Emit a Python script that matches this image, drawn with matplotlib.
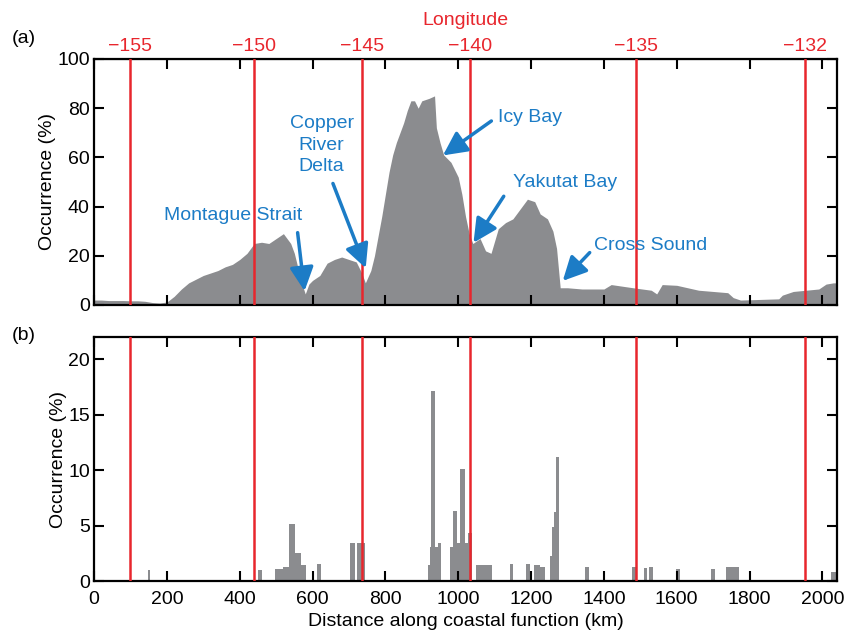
import numpy as np
import matplotlib.pyplot as plt

plt.rcParams['font.family'] = ['Liberation Sans', 'DejaVu Sans']

# (a) occurrence profile along the coast (km / %)
top_km = [0, 20, 40, 60, 80, 100, 120, 140, 160, 180, 200, 220, 240, 260, 280,
          300, 320, 340, 360, 380, 400, 420, 440, 460, 480, 500, 520, 540, 550,
          560, 570, 580, 590, 600, 620, 640, 660, 680, 700, 720, 735, 745, 760,
          770, 780, 790, 800, 810, 820, 830, 840, 850, 860, 870, 880, 890, 900,
          920, 935, 940, 950, 960, 980, 1000, 1010, 1020, 1030, 1040, 1060, 1075,
          1090, 1100, 1110, 1130, 1150, 1170, 1190, 1210, 1225, 1245, 1260, 1270,
          1280, 1300, 1340, 1380, 1400, 1420, 1480, 1530, 1545, 1560, 1600, 1630,
          1660, 1700, 1740, 1755, 1775, 1880, 1890, 1920, 1990, 2010, 2030, 2040]
top_val = [2.0, 2.0, 1.8, 1.8, 1.8, 1.7, 1.7, 1.5, 1.0, 0.8, 1.2, 3.5, 6.5, 9.0,
           10.5, 12.0, 13.0, 14.0, 15.5, 16.5, 18.5, 21.0, 25.0, 25.5, 25.0, 27.0,
           29.0, 25.0, 21.0, 15.0, 9.0, 4.5, 8.5, 10.0, 12.0, 17.0, 18.5, 19.5,
           18.5, 17.5, 13.0, 9.0, 14.0, 20.0, 28.0, 36.0, 45.0, 54.0, 61.0, 66.0,
           70.0, 74.0, 79.0, 83.0, 83.0, 80.0, 83.0, 84.0, 85.0, 72.0, 66.0, 61.0,
           58.0, 52.0, 45.0, 36.0, 29.0, 25.0, 27.0, 22.0, 21.0, 26.0, 31.0, 33.5,
           35.0, 39.0, 43.0, 42.0, 37.0, 35.0, 30.0, 23.0, 7.0, 7.0, 6.5, 6.5, 6.5,
           8.3, 7.0, 6.0, 4.5, 8.3, 8.0, 7.0, 6.0, 5.5, 5.0, 3.0, 2.0, 2.5, 4.0,
           5.5, 6.5, 8.5, 9.0, 9.0]

# (b) occurrence bars (start km, end km, %)
b_start = [148, 450, 497, 518, 535, 551, 567, 611, 704, 721, 733, 917, 922, 925,
           936, 944, 977, 985, 996, 1004, 1018, 1027, 1048, 1141, 1187, 1207, 1224,
           1251, 1258, 1262, 1268, 1347, 1478, 1509, 1523, 1599, 1695, 1734, 2024]
b_end = [153, 461, 518, 535, 551, 567, 582, 622, 716, 733, 744, 922, 925, 936,
         944, 952, 985, 996, 1004, 1018, 1027, 1039, 1092, 1150, 1196, 1224, 1237,
         1258, 1262, 1268, 1276, 1358, 1489, 1517, 1534, 1608, 1706, 1770, 2036]
b_val = [1.0, 1.0, 1.1, 1.3, 5.1, 2.5, 1.4, 1.5, 3.4, 3.45, 3.45, 1.4, 3.1, 17.1,
         3.1, 3.4, 3.1, 6.3, 3.4, 10.1, 3.4, 4.3, 1.45, 1.5, 1.5, 1.45, 1.3,
         2.3, 4.85, 6.2, 11.2, 1.25, 1.25, 1.2, 1.25, 1.1, 1.1, 1.25, 0.8]

# longitude marks
lon_km = [99, 438, 736, 1032, 1488, 1953]
lon_labels = ['\u2212155', '\u2212150', '\u2212145', '\u2212140', '\u2212135', '\u2212132']

gray = '#8b8c8f'
red = '#e8262d'
blue = '#1c7cc6'

fig = plt.figure(figsize=(8.44, 6.35), dpi=100)
ax1 = fig.add_axes([0.1114, 0.5197, 0.8803, 0.3874])
ax2 = fig.add_axes([0.1114, 0.0850, 0.8803, 0.3843])

ax1.fill_between(top_km, top_val, color=gray, lw=0)
ax2.bar(b_start, b_val, width=np.subtract(b_end, b_start),
        align='edge', color=gray, lw=0)

for ax in (ax1, ax2):
    for x in lon_km:
        ax.axvline(x, color=red, lw=1.8, zorder=3)
    ax.set_xlim(0, 2040)
    ax.set_xticks(np.arange(0, 2001, 200))
    ax.tick_params(direction='in', length=7, width=1.5, top=True, right=True,
                   labelsize=14)
    ax.tick_params(axis='x', pad=7.5)
    ax.tick_params(axis='y', pad=3)
    for s in ax.spines.values():
        s.set_linewidth(1.6)
    ax.set_ylabel('Occurrence (%)', fontsize=14, labelpad=1)

ax1.set_ylim(0, 100)
ax1.set_yticks([0, 20, 40, 60, 80, 100])
ax1.tick_params(labelbottom=False)
ax2.set_ylim(0, 22)
ax2.set_yticks([0, 5, 10, 15, 20])
ax2.set_xlabel('Distance along coastal function (km)', fontsize=14, labelpad=3)

# top longitude axis
sec = ax1.secondary_xaxis('top')
sec.set_xticks(lon_km)
sec.set_xticklabels(lon_labels, color=red, fontsize=14)
sec.tick_params(length=0, pad=3)
sec.set_xlabel('Longitude', color=red, fontsize=14, labelpad=9)

fig.text(0.014, 0.933, '(a)', fontsize=14)
fig.text(0.014, 0.465, '(b)', fontsize=14)

# annotations
labels = ['Montague Strait', 'Copper\nRiver\nDelta', 'Icy Bay', 'Yakutat Bay', 'Cross Sound']
label_xy = [(381, 36.3), (625, 64.9), (1196, 76.3), (1292, 49.8), (1528, 24.1)]
arrow_from = [(559, 29.4), (656, 49.4), (1091, 74.8), (1125, 44.2), (1361, 21.3)]
arrow_to = [(578, 5.7), (746, 15.0), (958, 60.8), (1042, 25.3), (1287, 9.8)]

for lab, (tx, ty), a0, a1 in zip(labels, label_xy, arrow_from, arrow_to):
    ax1.text(tx, ty, lab, color=blue, fontsize=14, ha='center', va='center',
             linespacing=1.35, zorder=5)
    ax1.annotate('', xy=a1, xytext=a0,
                 arrowprops=dict(arrowstyle='-|>,head_length=0.9,head_width=0.45',
                                 color=blue, lw=2.5, mutation_scale=16,
                                 shrinkA=0, shrinkB=0), zorder=5)

fig.savefig('out.png', dpi=100)
